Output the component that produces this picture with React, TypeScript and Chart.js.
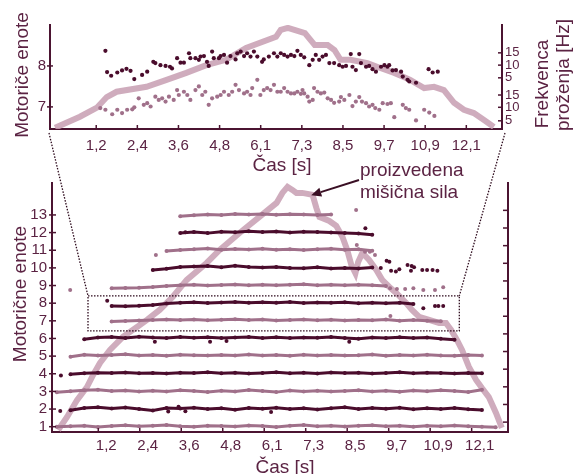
import React, { useEffect, useRef } from "react";
import { Chart, registerables } from "chart.js";

Chart.register(...registerables);

const W = 574;
const H = 474;
const FONT = "'Liberation Sans', Arial, Helvetica, sans-serif";
const DARK = "#4a0c2c";
const LIGHT = "#a0708a";
const FORCE = "rgba(200,160,180,0.88)";
const AXIS = "#4b1431";
const TEXT = "#5b2343";
const DOTTED = "#2d0a1c";

// ---- shared time axis ----
const X_TICKS = [1.21, 2.42, 3.63, 4.84, 6.05, 7.26, 8.47, 9.68, 10.89, 12.1];
const X_LABELS = ["1,2", "2,4", "3,6", "4,8", "6,1", "7,3", "8,5", "9,7", "10,9", "12,1"];

// ---- top chart (motor units 7 & 8, zoomed) ----
const TOP_Y_TICKS = [7, 8];
const TOP_Y_LABELS = ["7", "8"];
const TOP_R_TICKS = [8.32, 8.02, 7.71, 7.29, 6.99, 6.66];
const TOP_R_LABELS = ["15", "10", "5", "15", "10", "5"];

const TOP_DARK_T = [1.48,1.53,1.65,1.83,1.97,2.10,2.22,2.33,2.56,2.71,2.89,2.95,3.10,3.25,3.38,3.44,3.59,3.69,3.79,3.94,3.98,4.13,4.23,4.28,4.38,4.47,4.52,4.62,4.67,4.82,4.87,4.97,5.06,5.16,5.31,5.36,5.46,5.56,5.65,5.75,5.85,5.95,6.09,6.14,6.29,6.44,6.54,6.64,6.74,6.84,6.94,7.04,7.13,7.23,7.33,7.48,7.58,7.67,7.77,7.87,7.97,8.07,8.21,8.36,8.46,8.56,8.70,8.75,8.85,8.95,9.00,9.15,9.24,9.34,9.44,9.59,9.69,9.78,9.83,9.93,10.03,10.18,10.23,10.37,10.42,10.62,10.99,11.11,11.26];
const TOP_DARK_Y = [8.37,7.85,7.76,7.84,7.89,7.93,7.88,7.68,7.78,7.86,8.10,8.07,8.02,8.00,7.98,7.94,8.19,8.08,8.08,8.31,8.19,8.19,8.15,8.23,8.24,8.10,8.00,8.35,8.19,8.19,8.24,8.27,8.08,8.24,8.16,8.31,8.35,8.24,8.31,8.23,8.35,8.23,8.10,8.16,8.23,8.31,8.23,8.31,8.27,8.23,8.27,8.24,8.37,8.27,8.21,8.02,8.15,8.27,8.15,8.23,8.27,8.07,8.07,8.02,7.98,8.00,8.29,7.98,7.90,8.29,8.07,7.98,8.00,7.92,7.86,7.98,8.02,7.98,8.02,7.89,7.90,7.86,7.74,7.66,7.62,7.59,7.92,7.84,7.86];

const TOP_LIGHT_T = [1.33,1.48,1.68,1.83,1.97,2.12,2.27,2.33,2.46,2.61,2.71,2.81,2.95,3.05,3.15,3.25,3.35,3.49,3.59,3.64,3.79,3.89,3.98,4.13,4.23,4.33,4.42,4.52,4.62,4.77,4.87,4.97,5.11,5.21,5.31,5.41,5.56,5.65,5.75,5.80,5.95,6.04,6.14,6.24,6.34,6.44,6.54,6.64,6.74,6.84,6.94,7.04,7.13,7.23,7.28,7.33,7.43,7.48,7.58,7.62,7.72,7.82,7.92,8.02,8.12,8.21,8.36,8.41,8.51,8.66,8.75,8.85,8.95,9.03,9.15,9.24,9.34,9.42,9.54,9.64,9.78,9.88,9.98,10.23,10.32,10.42,10.62,10.86,11.01,11.16];
const TOP_LIGHT_Y = [6.97,6.93,6.82,6.93,6.85,6.93,6.94,6.99,7.21,7.05,7.09,7.01,7.25,7.17,7.21,7.13,7.25,7.17,7.41,7.29,7.37,7.29,7.17,7.41,7.50,7.29,7.37,7.05,7.21,7.25,7.29,7.37,7.29,7.37,7.54,7.41,7.33,7.37,7.29,7.46,7.66,7.29,7.41,7.46,7.41,7.54,7.37,7.37,7.46,7.37,7.33,7.33,7.37,7.32,7.41,7.33,7.25,7.13,7.17,7.46,7.37,7.33,7.35,7.21,7.17,7.10,7.13,7.24,7.17,7.29,7.02,7.13,7.24,7.13,7.09,7.01,7.05,6.97,6.93,7.09,7.07,7.09,6.75,7.05,6.97,6.93,6.67,6.93,6.86,6.78];

const FORCE_TOP_T = [0.0,0.73,1.23,1.52,1.81,2.69,3.28,3.86,4.45,5.03,5.62,6.50,6.64,6.85,7.35,7.52,7.64,8.02,8.22,8.40,8.69,9.19,9.57,9.98,10.45,10.86,11.15,11.44,11.74,12.03,12.32,12.62,12.91];
const FORCE_TOP_Y = [6.49,6.76,6.98,7.24,7.37,7.49,7.66,7.83,8.02,8.15,8.44,8.71,8.88,8.93,8.80,8.63,8.51,8.51,8.39,8.15,8.15,8.07,7.95,7.83,7.66,7.46,7.49,7.41,7.10,6.93,6.85,6.68,6.51];

// ---- bottom chart (13 motor units) ----
const BOT_Y_TICKS = [1,2,3,4,5,6,7,8,9,10,11,12,13];
const BOT_R_TICKS = [1.26,2.26,3.26,4.26,5.26,6.26,7.26,8.26,9.26,10.26,11.26,12.26,13.26];

const GRID_T = [0,0.4,0.8,1.2,1.6,2.0,2.4,2.8,3.2,3.6,4.0,4.4,4.8,5.2,5.6,6.0,6.4,6.8,7.2,7.6,8.0,8.4,8.8,9.2,9.6,10.0,10.4,10.8,11.2,11.6,12.0,12.4,12.8];

const U1 = [1.00,1.03,1.06,0.98,1.04,1.08,1.02,1.05,1.09,1.03,1.00,1.06,1.04,1.01,1.07,1.04,0.99,1.05,1.09,1.03,1.06,1.01,1.05,1.08,1.03,1.06,1.00,1.05,1.02,1.07,1.03,1.00,0.97];
const U2 = [null,1.93,2.06,2.10,2.03,2.09,2.00,1.92,2.06,2.03,2.08,2.01,2.05,1.96,2.06,2.02,2.08,2.00,2.04,1.97,2.05,2.10,2.01,2.06,2.02,2.08,1.99,2.04,2.01,2.06,1.99,1.94,null];
const U3 = [2.95,3.01,3.07,3.10,3.03,3.05,2.99,3.04,3.00,3.06,3.03,2.97,3.04,3.00,3.08,3.02,2.96,3.05,3.00,3.04,2.99,3.03,3.07,3.00,3.04,2.98,3.05,3.01,3.06,3.02,2.97,3.10,null];
const U4 = [null,3.97,4.03,4.06,4.04,4.07,4.03,4.05,4.02,4.06,4.04,4.08,4.03,4.06,4.02,4.05,4.08,4.03,4.06,4.02,4.07,4.04,4.06,4.02,4.05,4.08,4.03,4.06,4.04,4.02,4.05,4.03,null];
const U5 = [null,4.96,5.08,5.03,5.07,5.10,5.04,5.06,5.02,5.08,5.05,5.03,5.07,5.04,5.09,5.03,5.06,5.02,5.08,5.04,5.07,5.03,5.05,5.09,5.02,5.06,5.03,5.08,5.04,5.02,5.06,5.04,null];
const U6 = [null,null,5.96,6.05,6.09,6.03,6.10,6.05,6.02,6.08,6.04,6.07,6.02,6.06,6.09,6.03,6.07,6.02,6.06,6.04,6.08,6.03,5.98,6.06,6.03,6.07,6.02,6.05,5.98,5.93,null,null,null];
const U7 = [null,null,null,null,6.96,6.99,7.02,7.05,7.08,7.04,7.07,7.03,7.06,7.09,7.04,7.07,7.02,7.05,7.08,7.03,7.06,7.02,7.05,7.03,7.07,7.01,7.04,7.00,6.97,null,null,null,null];
const U8 = [null,null,null,null,7.84,7.83,7.85,7.90,7.98,8.03,8.05,8.01,8.04,8.07,8.02,8.05,8.03,8.06,8.01,8.04,8.02,8.05,8.00,8.03,7.99,8.02,7.96,null,null,null,null,null,null];
const U9 = [null,null,null,null,8.85,8.86,8.88,8.92,8.98,9.01,9.04,9.00,9.03,9.06,9.02,9.05,9.01,9.04,9.07,9.02,9.05,9.01,9.04,9.02,8.98,null,null,null,null,null,null,null,null];
const U10 = [null,null,null,null,null,null,null,9.88,9.95,10.05,10.08,10.10,10.03,10.12,10.05,10.02,10.05,10.00,9.98,10.03,9.96,10.00,9.97,10.02,null,null,null,null,null,null,null,null,null];
const U11 = [null,null,null,null,null,null,null,null,10.96,11.02,11.05,11.10,11.03,11.07,11.04,11.08,11.03,11.06,11.02,11.05,11.08,11.03,11.05,10.97,null,null,null,null,null,null,null,null,null];
const U12 = [null,null,null,null,null,null,null,null,null,11.98,12.03,11.97,12.05,12.02,12.08,12.03,12.06,12.01,12.05,12.03,12.00,11.97,11.95,11.88,null,null,null,null,null,null,null,null,null];
const U13 = [null,null,null,null,null,null,null,null,null,12.93,12.98,13.03,13.00,13.05,13.02,13.06,13.01,13.04,13.02,12.99,13.02,null,null,null,null,null,null,null,null,null,null,null,null];

const DARK_ROWS = [U2, U4, U6, U8, U10, U12];
const LIGHT_ROWS = [U1, U3, U5, U7, U9, U11, U13];

const DARK_OUT_T = [0.10,3.25,3.55,3.75,6.25,0.12,2.86,4.47,4.95,8.53,1.47,10.69,11.03,11.13,11.27,9.45,9.70,9.75,9.89,9.99,10.23,10.33,10.42,10.66,10.80,10.96,11.10,9.00,3.75,9.62,10.35];
const DARK_OUT_U = [1.89,1.86,2.13,1.88,1.83,3.90,5.82,5.82,5.85,5.82,8.14,7.71,7.84,7.84,7.84,10.00,10.35,9.84,9.79,9.92,10.17,9.84,10.03,9.88,9.88,9.88,9.84,12.25,12.02,10.41,10.10];
const LIGHT_OUT_T = [0.39,2.89,8.73,8.75,9.72,9.92,10.16,10.40,10.69,11.03,11.27,8.99,9.13,9.28,9.73];
const LIGHT_OUT_U = [8.75,10.73,13.28,11.30,8.85,8.80,8.80,8.85,8.75,8.75,8.90,10.92,10.92,10.73,7.27];

const FORCE_BOT_T = [0.04,0.30,0.59,0.88,1.06,1.26,1.55,1.93,2.34,2.63,3.00,3.38,3.79,4.37,4.75,5.33,5.91,6.41,6.58,6.73,6.87,6.99,7.16,7.46,7.57,7.66,7.95,8.15,8.33,8.47,8.59,8.71,8.79,8.91,9.11,9.32,9.49,9.70,9.90,10.19,10.36,10.57,10.86,11.15,11.35,11.50,11.67,11.82,12.02,12.23,12.40,12.60,12.81,12.98];
const FORCE_BOT_U = [0.81,1.55,2.51,3.25,3.93,4.61,5.35,6.09,6.65,7.05,7.62,8.35,9.32,10.28,11.02,11.98,12.89,13.68,14.25,14.59,14.42,14.25,14.25,14.14,13.40,12.89,12.66,12.38,11.76,11.02,10.17,9.70,10.34,10.85,10.45,9.88,9.32,8.92,8.58,8.01,7.62,7.22,7.05,6.88,6.88,6.48,5.92,5.35,4.39,3.65,3.19,2.68,1.78,0.93];

// zoom window (time range, unit range) and arrow target on the force curve
const ZOOM_T = [0.91, 11.74];
const ZOOM_U = [6.43, 8.41];
const ARROW_AT = [7.42, 14.12];

const pts = (t: number[], v: (number | null)[]) =>
  t.map((x, i) => ({ x, y: v[i] })).filter((p) => p.y !== null && p.y !== undefined);

type TickSpec = { id: string; side: "bottom" | "left" | "right"; values: number[]; inLen: number; outLen: number };

function tickPlugin(specs: TickSpec[]) {
  return {
    id: "insideTicks",
    afterDraw(chart: any) {
      const { ctx, chartArea: a } = chart;
      ctx.save();
      ctx.strokeStyle = AXIS;
      ctx.lineWidth = 1.5;
      for (const s of specs) {
        const sc = chart.scales[s.id];
        for (const v of s.values) {
          const p = sc.getPixelForValue(v);
          ctx.beginPath();
          if (s.side === "bottom") {
            ctx.moveTo(p, a.bottom + s.outLen);
            ctx.lineTo(p, a.bottom - s.inLen);
          } else if (s.side === "left") {
            ctx.moveTo(a.left - s.outLen, p);
            ctx.lineTo(a.left + s.inLen, p);
          } else {
            ctx.moveTo(a.right + s.outLen, p);
            ctx.lineTo(a.right - s.inLen, p);
          }
          ctx.stroke();
        }
      }
      ctx.restore();
    },
  };
}

const tickFont = { family: FONT, size: 15 };

export default function App() {
  const topRef = useRef<HTMLCanvasElement>(null);
  const botRef = useRef<HTMLCanvasElement>(null);

  useEffect(() => {
    document.body.style.margin = "0";
    document.body.style.background = "#ffffff";
    Chart.defaults.font.family = FONT;

    const border = { display: true, color: AXIS, width: 2 };
    const noGrid = { display: false, drawTicks: false };

    const top = new Chart(topRef.current as HTMLCanvasElement, {
      type: "scatter",
      data: {
        datasets: [
          { data: pts(TOP_DARK_T, TOP_DARK_Y), backgroundColor: DARK, borderColor: DARK, pointRadius: 2.1, pointBorderWidth: 0, showLine: false },
          { data: pts(TOP_LIGHT_T, TOP_LIGHT_Y), backgroundColor: LIGHT, borderColor: LIGHT, pointRadius: 2.1, pointBorderWidth: 0, showLine: false },
          { data: pts(FORCE_TOP_T, FORCE_TOP_Y), borderColor: FORCE, backgroundColor: FORCE, borderWidth: 6, pointRadius: 0, showLine: true, fill: false },
        ],
      } as any,
      options: {
        responsive: false,
        animation: false,
        events: [],
        layout: { padding: { top: 25, left: 0, right: 0, bottom: 0 } },
        plugins: { legend: { display: false }, tooltip: { enabled: false } },
        scales: {
          x: {
            type: "linear", position: "bottom", min: -0.15, max: 13.15,
            grid: noGrid, border,
            afterBuildTicks: (s: any) => { s.ticks = X_TICKS.map((value) => ({ value })); },
            afterFit: (s: any) => { s.height = H - 129; },
            ticks: { padding: 8, color: TEXT, font: tickFont, autoSkip: false, maxRotation: 0, callback: (_v: any, i: number) => X_LABELS[i] },
          },
          y: {
            type: "linear", position: "left", min: 6.46, max: 9.0,
            grid: noGrid, border,
            afterBuildTicks: (s: any) => { s.ticks = TOP_Y_TICKS.map((value) => ({ value })); },
            afterFit: (s: any) => { s.width = 50; },
            ticks: { padding: 4, color: TEXT, font: tickFont, autoSkip: false, callback: (_v: any, i: number) => TOP_Y_LABELS[i] },
          },
          y2: {
            type: "linear", position: "right", min: 6.46, max: 9.0,
            grid: noGrid, border,
            afterBuildTicks: (s: any) => { s.ticks = TOP_R_TICKS.map((value) => ({ value })); },
            afterFit: (s: any) => { s.width = W - 502; },
            ticks: { padding: 3, color: TEXT, font: { family: FONT, size: 13 }, autoSkip: false, callback: (_v: any, i: number) => TOP_R_LABELS[i] },
          },
        },
      } as any,
      plugins: [
        tickPlugin([
          { id: "x", side: "bottom", values: X_TICKS, inLen: 4, outLen: 0 },
          { id: "y", side: "left", values: TOP_Y_TICKS, inLen: 3, outLen: 3 },
          { id: "y2", side: "right", values: TOP_R_TICKS, inLen: 4, outLen: 0 },
        ]),
      ],
    });

    const rowSets: any[] = [];
    DARK_ROWS.forEach((r) =>
      rowSets.push({ data: pts(GRID_T, r), borderColor: DARK, backgroundColor: DARK, borderWidth: 3, pointRadius: 2, pointBorderWidth: 0, showLine: true, fill: false })
    );
    LIGHT_ROWS.forEach((r) =>
      rowSets.push({ data: pts(GRID_T, r), borderColor: LIGHT, backgroundColor: LIGHT, borderWidth: 3, pointRadius: 2, pointBorderWidth: 0, showLine: true, fill: false })
    );

    const deco = {
      id: "zoomDeco",
      afterDatasetsDraw(chart: any) {
        const { ctx } = chart;
        const x = chart.scales.x;
        const y = chart.scales.y;
        const l = x.getPixelForValue(ZOOM_T[0]);
        const r = x.getPixelForValue(ZOOM_T[1]);
        const tp = y.getPixelForValue(ZOOM_U[1]);
        const bt = y.getPixelForValue(ZOOM_U[0]);
        const ta = top.chartArea;
        ctx.save();
        ctx.strokeStyle = DOTTED;
        ctx.lineWidth = 1.3;
        ctx.setLineDash([1.5, 1.5]);
        ctx.strokeRect(l, tp, r - l, bt - tp);
        ctx.beginPath();
        ctx.moveTo(ta.left - 1, ta.bottom + 4);
        ctx.lineTo(l, tp);
        ctx.moveTo(ta.right + 3, ta.bottom + 4);
        ctx.lineTo(r, tp);
        ctx.stroke();
        // arrow from label to force curve
        ctx.setLineDash([]);
        const hx = x.getPixelForValue(ARROW_AT[0]);
        const hy = y.getPixelForValue(ARROW_AT[1]);
        const tx = 359, ty = 180;
        const ang = Math.atan2(hy - ty, hx - tx);
        const len = 10, hw = 4.5;
        const bx = hx - len * Math.cos(ang), by = hy - len * Math.sin(ang);
        ctx.strokeStyle = "#3a0f24";
        ctx.fillStyle = "#3a0f24";
        ctx.lineWidth = 2;
        ctx.beginPath();
        ctx.moveTo(tx, ty);
        ctx.lineTo(bx, by);
        ctx.stroke();
        ctx.beginPath();
        ctx.moveTo(hx, hy);
        ctx.lineTo(bx + hw * Math.sin(ang), by - hw * Math.cos(ang));
        ctx.lineTo(bx - hw * Math.sin(ang), by + hw * Math.cos(ang));
        ctx.closePath();
        ctx.fill();
        ctx.restore();
      },
    };

    const bot = new Chart(botRef.current as HTMLCanvasElement, {
      type: "scatter",
      data: {
        datasets: [
          ...rowSets,
          { data: pts(DARK_OUT_T, DARK_OUT_U), backgroundColor: DARK, borderColor: DARK, pointRadius: 2, pointBorderWidth: 0, showLine: false },
          { data: pts(LIGHT_OUT_T, LIGHT_OUT_U), backgroundColor: LIGHT, borderColor: LIGHT, pointRadius: 2, pointBorderWidth: 0, showLine: false },
          { data: pts(FORCE_BOT_T, FORCE_BOT_U), borderColor: FORCE, backgroundColor: FORCE, borderWidth: 6, pointRadius: 0, showLine: true, fill: false },
        ],
      } as any,
      options: {
        responsive: false,
        animation: false,
        events: [],
        layout: { padding: { top: 183, left: 0, right: 0, bottom: 0 } },
        plugins: { legend: { display: false }, tooltip: { enabled: false } },
        scales: {
          x: {
            type: "linear", position: "bottom", min: -0.14, max: 13.16,
            grid: noGrid, border,
            afterBuildTicks: (s: any) => { s.ticks = X_TICKS.map((value) => ({ value })); },
            afterFit: (s: any) => { s.height = H - 432; },
            ticks: { padding: 5, labelOffset: 8, color: TEXT, font: tickFont, autoSkip: false, maxRotation: 0, callback: (_v: any, i: number) => X_LABELS[i] },
          },
          y: {
            type: "linear", position: "left", min: 0.7, max: 14.81,
            grid: noGrid, border,
            afterBuildTicks: (s: any) => { s.ticks = BOT_Y_TICKS.map((value) => ({ value })); },
            afterFit: (s: any) => { s.width = 52; },
            ticks: { padding: 5, color: TEXT, font: tickFont, autoSkip: false, callback: (v: any) => String(v) },
          },
          y2: {
            type: "linear", position: "right", min: 0.7, max: 14.81,
            grid: noGrid, border,
            afterFit: (s: any) => { s.width = W - 508; },
            ticks: { display: false },
          },
        },
      } as any,
      plugins: [
        tickPlugin([
          { id: "x", side: "bottom", values: X_TICKS, inLen: 4, outLen: 0 },
          { id: "y", side: "left", values: BOT_Y_TICKS, inLen: 4, outLen: 3 },
          { id: "y2", side: "right", values: BOT_R_TICKS, inLen: 5, outLen: 0 },
        ]),
        deco,
      ],
    });

    return () => {
      bot.destroy();
      top.destroy();
    };
  }, []);

  const txt: React.CSSProperties = {
    position: "absolute",
    color: TEXT,
    fontFamily: FONT,
    fontSize: 19,
    lineHeight: "19px",
    whiteSpace: "nowrap",
  };
  const center = (cx: number, cy: number, rot: boolean): React.CSSProperties => ({
    ...txt,
    left: cx,
    top: cy,
    transform: `translate(-50%, -50%)${rot ? " rotate(-90deg)" : ""}`,
  });

  return (
    <div style={{ position: "relative", width: W, height: H, background: "#ffffff", overflow: "hidden" }}>
      <canvas ref={topRef} width={W} height={H} style={{ position: "absolute", left: 0, top: 0, width: W, height: H }} />
      <canvas ref={botRef} width={W} height={H} style={{ position: "absolute", left: 0, top: 0, width: W, height: H }} />
      <div style={center(20.5, 74.5, true)}>Motoriče enote</div>
      <div style={center(18.5, 294, true)}>Motorične enote</div>
      <div style={center(282, 164, false)}>Čas [s]</div>
      <div style={center(285, 466, false)}>Čas [s]</div>
      <div style={center(541, 84, true)}>Frekvenca</div>
      <div style={center(562, 75, true)}>proženja [Hz]</div>
      <div style={{ ...txt, left: 360, top: 159, lineHeight: "22px" }}>
        proizvedena
        <br />
        mišična sila
      </div>
    </div>
  );
}
